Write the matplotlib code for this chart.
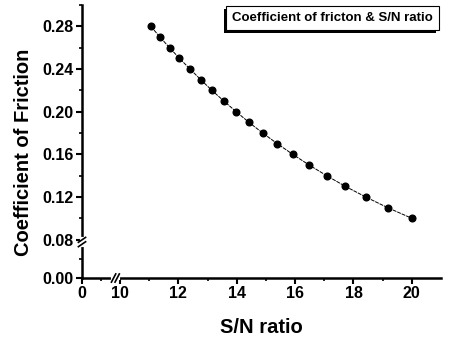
import matplotlib
matplotlib.use("Agg")
import matplotlib.pyplot as plt
import matplotlib.patheffects as pe
import numpy as np
from matplotlib.ticker import FixedLocator

# data
sn_ratio = [11.06, 11.37, 11.70, 12.04, 12.40, 12.77, 13.15, 13.56, 13.98, 14.42,
            14.89, 15.39, 15.92, 16.48, 17.08, 17.72, 18.42, 19.17, 20.00]
friction = [0.28, 0.27, 0.26, 0.25, 0.24, 0.23, 0.22, 0.21, 0.20, 0.19,
            0.18, 0.17, 0.16, 0.15, 0.14, 0.13, 0.12, 0.11, 0.10]

x_major = [0, 10, 12, 14, 16, 18, 20]
x_minor = [5, 11, 13, 15, 17, 19]
y_major = [0.00, 0.08, 0.12, 0.16, 0.20, 0.24, 0.28]
y_minor = [0.04, 0.10, 0.14, 0.18, 0.22, 0.26, 0.30]

legend_text = "Coefficient of fricton & S/N ratio"

plt.rcParams["font.family"] = ["Liberation Sans", "DejaVu Sans"]
plt.rcParams["font.weight"] = "bold"


# broken axes done with piecewise-linear scales
def fx(x):
    x = np.asarray(x, float)
    return np.where(x < 10, x * 0.13, 1.3 + (x - 10))


def fx_inv(u):
    u = np.asarray(u, float)
    return np.where(u < 1.3, u / 0.13, u - 1.3 + 10)


def fy(y):
    y = np.asarray(y, float)
    return np.where(y < 0.08, y * 0.45, 0.036 + (y - 0.08))


def fy_inv(u):
    u = np.asarray(u, float)
    return np.where(u < 0.036, u / 0.45, u - 0.036 + 0.08)


fig = plt.figure(figsize=(4.58, 3.37), dpi=100)
ax = fig.add_axes([0.179, 0.175, 0.784, 0.81])

ax.set_xscale("function", functions=(fx, fx_inv))
ax.set_yscale("function", functions=(fy, fy_inv))
ax.set_xlim(0, 21)
ax.set_ylim(0, 0.30)

ax.plot(sn_ratio, friction, color="black", lw=0.7, ls=(0, (4, 1)),
        marker="o", ms=4.8, mfc="black", mec="black")

ax.spines["top"].set_visible(False)
ax.spines["right"].set_visible(False)
ax.spines["left"].set_linewidth(1.8)
ax.spines["bottom"].set_linewidth(1.8)

ax.xaxis.set_major_locator(FixedLocator(x_major))
ax.xaxis.set_minor_locator(FixedLocator(x_minor))
ax.yaxis.set_major_locator(FixedLocator(y_major))
ax.yaxis.set_minor_locator(FixedLocator(y_minor))
ax.set_xticklabels([str(v) for v in x_major])
ax.set_yticklabels(["%.2f" % v for v in y_major])
ax.tick_params(which="major", direction="out", length=4, width=1.5,
               labelsize=11.5, pad=2)
ax.tick_params(which="minor", direction="out", length=2.5, width=1.2)
for lab in ax.get_xticklabels() + ax.get_yticklabels():
    lab.set_fontweight("bold")

ax.set_xlabel("S/N ratio", fontsize=14.5, fontweight="bold", labelpad=12)
ax.set_ylabel("Coefficient of Friction", fontsize=14.5, fontweight="bold")
ax.yaxis.set_label_coords(-0.137, 0.46)

# break marks
xb = float(fx(8.8) / fx(21))
yb = float((fy(0.075)) / fy(0.30))
for x0, y0, dx, dy in [(xb, 0, 0.012, 0.03), (0, yb, 0.02, 0.018)]:
    if y0 == 0:
        ax.plot([x0 - 0.007, x0 + 0.007], [0, 0], color="white", lw=3,
                transform=ax.transAxes, clip_on=False, zorder=5)
        for off in (-0.005, 0.005):
            ax.plot([x0 + off - dx / 2, x0 + off + dx / 2], [-dy / 2, dy / 2],
                    color="black", lw=1.2, transform=ax.transAxes,
                    clip_on=False, zorder=6)
    else:
        ax.plot([0, 0], [y0 - 0.012, y0 + 0.012], color="white", lw=3,
                transform=ax.transAxes, clip_on=False, zorder=5)
        for off in (-0.008, 0.008):
            ax.plot([-dx / 2, dx / 2], [y0 + off - dy / 2, y0 + off + dy / 2],
                    color="black", lw=1.2, transform=ax.transAxes,
                    clip_on=False, zorder=6)

# legend-like label box with shadow
t = ax.text(0.697, 0.952, legend_text, transform=ax.transAxes,
            ha="center", va="center", fontsize=9.5, fontweight="bold",
            bbox=dict(boxstyle="square,pad=0.45", fc="white", ec="black", lw=0.8))
t.get_bbox_patch().set_path_effects([
    pe.SimplePatchShadow(offset=(-1.5, -2), shadow_rgbFace="black", alpha=1.0),
    pe.Normal()])

fig.savefig("out.png", dpi=100)
